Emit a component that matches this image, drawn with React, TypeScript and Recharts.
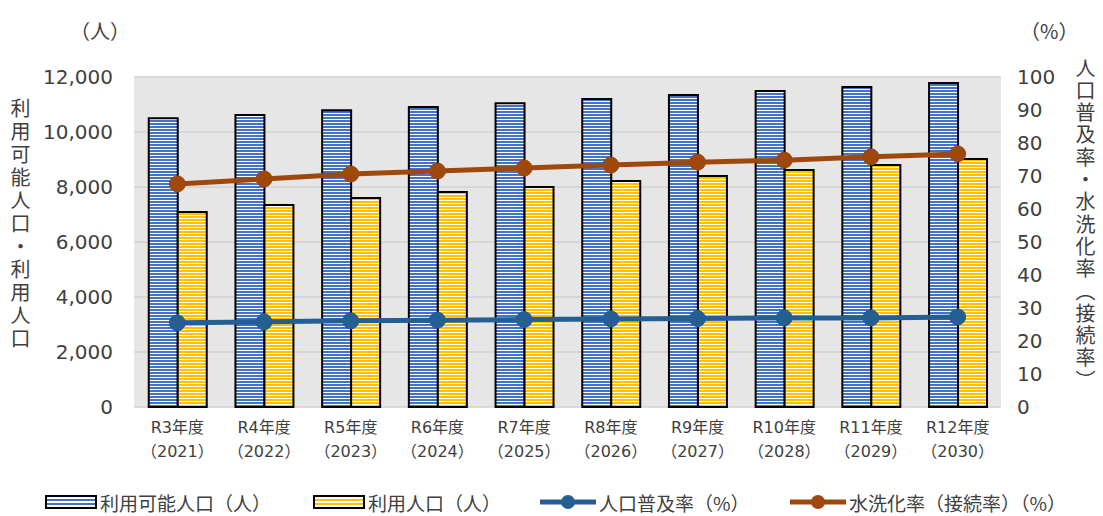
import React from 'react';
import { ComposedChart, Bar, Line, XAxis, YAxis, CartesianGrid } from 'recharts';

const categories = ['R3年度', 'R4年度', 'R5年度', 'R6年度', 'R7年度', 'R8年度', 'R9年度', 'R10年度', 'R11年度', 'R12年度'];
const years = ['2021', '2022', '2023', '2024', '2025', '2026', '2027', '2028', '2029', '2030'];
const availablePop = [10500, 10620, 10790, 10910, 11050, 11200, 11350, 11490, 11640, 11780];
const usingPop = [7090, 7345, 7600, 7820, 8000, 8220, 8400, 8620, 8800, 9020];
const coverageRate = [25.5, 25.8, 26.1, 26.3, 26.5, 26.7, 26.8, 27.0, 27.0, 27.3];
const flushRate = [67.6, 69.1, 70.6, 71.5, 72.4, 73.3, 74.2, 74.8, 75.8, 76.7];
const leftTicks = [0, 2000, 4000, 6000, 8000, 10000, 12000];
const rightTicks = [0, 10, 20, 30, 40, 50, 60, 70, 80, 90, 100];

const data = categories.map((c, i) => ({
  name: c,
  year: years[i],
  available: availablePop[i],
  using: usingPop[i],
  coverage: coverageRate[i],
  flush: flushRate[i],
}));

const FONT = '"Noto Sans CJK JP", "Noto Sans", sans-serif';
const NUMFONT = '"DejaVu Sans", "Noto Sans CJK JP", sans-serif';
const TEXT = '#404040';
const BLUE = '#4472C4';
const YELLOW = '#FFC000';
const LINE_BLUE = '#255E91';
const LINE_ORANGE = '#9E480E';

const XTick = (props: any) => {
  const { x, y, payload } = props;
  const yr = years[payload.index] ?? '';
  return (
    <g>
      <text x={x} y={y} textAnchor="middle" fill={TEXT} fontSize={16} fontFamily={NUMFONT}>
        <tspan x={x} dy={26}>{payload.value}</tspan>
        <tspan x={x} dy={24}>（{yr}）</tspan>
      </text>
    </g>
  );
};

const StripeIcon = ({ color }: { color: string }) => (
  <svg width={52} height={14} style={{ display: 'block' }}>
    <rect x={1} y={1} width={50} height={12} fill="#fff" stroke="#000" strokeWidth={2} />
    <rect x={2} y={4} width={48} height={2} fill={color} />
    <rect x={2} y={8} width={48} height={2} fill={color} />
  </svg>
);

const LineIcon = ({ color }: { color: string }) => (
  <svg width={56} height={18} style={{ display: 'block' }}>
    <line x1={0} y1={9} x2={56} y2={9} stroke={color} strokeWidth={5} />
    <circle cx={28} cy={9} r={7} fill={color} />
  </svg>
);

const legendItems = [
  { left: 45, icon: <StripeIcon color={BLUE} />, label: '利用可能人口（人）' },
  { left: 313, icon: <StripeIcon color={YELLOW} />, label: '利用人口（人）' },
  { left: 540, icon: <LineIcon color={LINE_BLUE} />, label: '人口普及率（%）' },
  { left: 790, icon: <LineIcon color={LINE_ORANGE} />, label: '水洗化率（接続率）（%）' },
];

export default function App() {
  return (
    <div style={{ position: 'absolute', left: 0, top: 0, width: 1103, height: 516, background: '#fff', fontFamily: FONT }}>
      <ComposedChart
        width={1103}
        height={470}
        data={data}
        margin={{ top: 77, right: 0, bottom: 3, left: 0 }}
        barCategoryGap="17%"
        barGap={0}
      >
        <defs>
          <pattern id="stripeBlue" patternUnits="userSpaceOnUse" width={6} height={3}>
            <rect x={0} y={0} width={6} height={3} fill="#fff" />
            <rect x={0} y={0} width={6} height={2} fill={BLUE} />
          </pattern>
          <pattern id="stripeYellow" patternUnits="userSpaceOnUse" width={6} height={3}>
            <rect x={0} y={0} width={6} height={3} fill="#fff" />
            <rect x={0} y={0} width={6} height={2} fill={YELLOW} />
          </pattern>
        </defs>
        <CartesianGrid vertical={false} fill="#E6E6E6" stroke="#D2D2D2" strokeWidth={1.5} yAxisId="left" />
        <XAxis
          dataKey="name"
          axisLine={false}
          tickLine={false}
          tickSize={0}
          tickMargin={0}
          height={60}
          interval={0}
          tick={<XTick />}
        />
        <YAxis
          yAxisId="left"
          orientation="left"
          width={134}
          domain={[0, 12000]}
          ticks={leftTicks}
          tickFormatter={(v: number) => v.toLocaleString('en-US')}
          axisLine={false}
          tickLine={false}
          tickSize={0}
          tickMargin={21}
          tick={{ fill: TEXT, fontSize: 20, fontFamily: NUMFONT }}
        />
        <YAxis
          yAxisId="right"
          orientation="right"
          width={102}
          domain={[0, 100]}
          ticks={rightTicks}
          axisLine={false}
          tickLine={false}
          tickSize={0}
          tickMargin={16}
          tick={{ fill: TEXT, fontSize: 20, fontFamily: NUMFONT, textAnchor: 'start' }}
        />
        <Bar yAxisId="left" dataKey="available" fill="url(#stripeBlue)" stroke="#000" strokeWidth={2} isAnimationActive={false} />
        <Bar yAxisId="left" dataKey="using" fill="url(#stripeYellow)" stroke="#000" strokeWidth={2} isAnimationActive={false} />
        <Line
          yAxisId="right"
          dataKey="coverage"
          stroke={LINE_BLUE}
          strokeWidth={5}
          dot={{ r: 8, fill: LINE_BLUE, stroke: LINE_BLUE, strokeWidth: 1 }}
          isAnimationActive={false}
        />
        <Line
          yAxisId="right"
          dataKey="flush"
          stroke={LINE_ORANGE}
          strokeWidth={5}
          dot={{ r: 8, fill: LINE_ORANGE, stroke: LINE_ORANGE, strokeWidth: 1 }}
          isAnimationActive={false}
        />
      </ComposedChart>

      <div style={{ position: 'absolute', left: 70, top: 16, fontSize: 20, color: TEXT }}>（人）</div>
      <div style={{ position: 'absolute', left: 1020, top: 16, fontSize: 20, color: TEXT }}>（%）</div>
      <div
        style={{
          position: 'absolute', left: 8, top: 98, writingMode: 'vertical-rl', fontSize: 20,
          lineHeight: '24px', letterSpacing: 3, color: TEXT,
        }}
      >
        利用可能人口・利用人口
      </div>
      <div
        style={{
          position: 'absolute', left: 1073, top: 58, writingMode: 'vertical-rl', fontSize: 20,
          lineHeight: '24px', letterSpacing: 2.3, color: TEXT,
        }}
      >
        人口普及率・水洗化率（接続率）
      </div>

      {legendItems.map((it, i) => (
        <div
          key={i}
          style={{
            position: 'absolute', left: it.left, top: 489, height: 26, display: 'flex', alignItems: 'center',
            gap: 3, fontSize: 19, color: TEXT, whiteSpace: 'nowrap',
          }}
        >
          {it.icon}
          <span>{it.label}</span>
        </div>
      ))}
    </div>
  );
}
